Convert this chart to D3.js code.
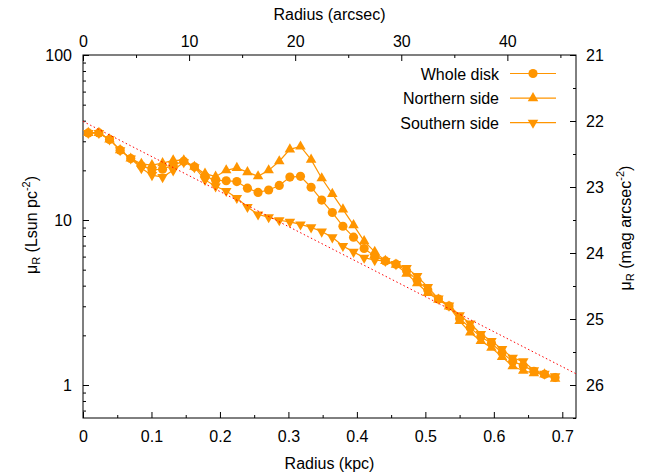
<!DOCTYPE html>
<html>
<head>
<meta charset="utf-8">
<script src="https://cdn.jsdelivr.net/npm/d3@7"></script>
<style>
  body { margin: 0; background: #fff; }
  svg { font-family: "Liberation Sans", Arial, sans-serif; font-size: 16px; }
  .tick text { font-size: 16px; fill: #000; }
  .tick line { stroke: #000; }
</style>
</head>
<body>
<div class="profile-container"></div>
<script>
// radii of the annuli (arcsec)
const radiusArcsec = [0.5, 1.5, 2.5, 3.5, 4.5, 5.5, 6.5, 7.5, 8.5, 9.5,
  10.5, 11.5, 12.5, 13.5, 14.5, 15.5, 16.5, 17.5, 18.5, 19.5,
  20.5, 21.5, 22.5, 23.5, 24.5, 25.5, 26.5, 27.5, 28.5, 29.5,
  30.5, 31.5, 32.5, 33.5, 34.5, 35.5, 36.5, 37.5, 38.5, 39.5,
  40.5, 41.5, 42.5, 43.5, 44.5];

// surface brightness (Lsun pc^-2)
const wholeDisk = [33.7, 33.7, 30.8, 26.5, 23.6, 21.3, 20.2, 20.3, 21.5, 22.7,
  21.0, 18.4, 17.4, 17.3, 17.1, 15.6, 14.7, 15.2, 16.2, 18.2,
  18.4, 15.8, 13.2, 11.1, 9.17, 7.87, 6.72, 6.04, 5.65, 5.40,
  4.92, 4.32, 3.76, 3.32, 3.01, 2.53, 2.22, 1.96, 1.79, 1.57,
  1.39, 1.31, 1.21, 1.16, 1.11];
const northernSide = [33.7, 33.7, 30.8, 26.5, 23.6, 21.9, 21.5, 22.1, 23.0, 23.0,
  21.0, 19.1, 18.3, 20.0, 20.7, 19.5, 18.4, 20.0, 22.7, 26.8,
  27.9, 23.2, 17.9, 14.4, 11.6, 9.30, 7.44, 6.41, 5.65, 5.36,
  4.73, 4.14, 3.61, 3.29, 2.99, 2.44, 2.08, 1.85, 1.68, 1.48,
  1.30, 1.22, 1.18, 1.16, 1.09];
const southernSide = [33.7, 33.7, 30.8, 26.5, 23.6, 20.6, 18.7, 18.2, 20.0, 22.4,
  20.9, 17.5, 16.0, 15.0, 13.6, 12.0, 10.8, 10.4, 9.97, 9.74,
  9.40, 9.02, 8.51, 7.85, 6.96, 6.41, 5.91, 5.71, 5.65, 5.40,
  5.11, 4.57, 3.92, 3.34, 3.03, 2.65, 2.36, 2.04, 1.85, 1.65,
  1.46, 1.39, 1.23, 1.17, 1.13];

// exponential fit, end points
const fitKpc = [0, 0.72];
const fitMu = [39.6, 1.17];

// axis ticks
const kpcTicks = [0, 0.1, 0.2, 0.3, 0.4, 0.5, 0.6, 0.7];
const kpcMinor = [0.05, 0.15, 0.25, 0.35, 0.45, 0.55, 0.65];
const arcTicks = [0, 10, 20, 30, 40];
const arcMinor = [5, 15, 25, 35, 45];
const muTicks = [1, 10, 100];
const muMinor = [0.7, 0.8, 0.9, 2, 3, 4, 5, 6, 7, 8, 9, 20, 30, 40, 50, 60, 70, 80, 90];
const magTicks = [21, 22, 23, 24, 25, 26];
const magMinor = [21.5, 22.5, 23.5, 24.5, 25.5, 26.5];

const seriesNames = ["Whole disk", "Northern side", "Southern side"];

const orange = "#ff9500";

const margin = {top: 55, right: 81, bottom: 55, left: 83};
const W = 657, H = 473;
const width = W - margin.left - margin.right;
const height = H - margin.top - margin.bottom;

const xKpc = d3.scaleLinear().domain([0, 0.72]).range([0, width]);
const xArc = d3.scaleLinear().domain([0, 46.47]).range([0, width]);
const y = d3.scaleLog().domain([0.631, 100]).range([height, 0]);
const yMag = d3.scaleLinear().domain([21, 26.5]).range([0, height]);

const svg = d3.select(".profile-container").append("svg")
  .attr("width", W)
  .attr("height", H)
  .append("g")
  .attr("transform", "translate(" + margin.left + "," + margin.top + ")");

function cleanAxis(g) {
  g.select(".domain").remove();
  g.selectAll(".tick line").attr("stroke-width", 1);
}

// bottom axis (kpc)
svg.append("g")
  .attr("transform", "translate(0," + height + ")")
  .call(d3.axisBottom(xKpc).tickValues(kpcTicks).tickSize(-6).tickPadding(13)
    .tickFormat(d => d === 0 ? "0" : d3.format(".1f")(d)))
  .call(cleanAxis);
svg.append("g")
  .attr("transform", "translate(0," + height + ")")
  .call(d3.axisBottom(xKpc).tickValues(kpcMinor).tickSize(-3).tickFormat(""))
  .call(cleanAxis);

// top axis (arcsec)
svg.append("g")
  .call(d3.axisTop(xArc).tickValues(arcTicks).tickSize(-6).tickPadding(8)
    .tickFormat(d3.format("d")))
  .call(cleanAxis);
svg.append("g")
  .call(d3.axisTop(xArc).tickValues(arcMinor).tickSize(-3).tickFormat(""))
  .call(cleanAxis);

// left axis (Lsun pc^-2)
svg.append("g")
  .call(d3.axisLeft(y).tickValues(muTicks).tickSize(-6).tickPadding(11)
    .tickFormat(d3.format("d")))
  .call(cleanAxis);
svg.append("g")
  .call(d3.axisLeft(y).tickValues(muMinor).tickSize(-3).tickFormat(""))
  .call(cleanAxis);

// right axis (mag arcsec^-2)
svg.append("g")
  .attr("transform", "translate(" + width + ",0)")
  .call(d3.axisRight(yMag).tickValues(magTicks).tickSize(-6).tickPadding(10)
    .tickFormat(d3.format("d")))
  .call(cleanAxis);
svg.append("g")
  .attr("transform", "translate(" + width + ",0)")
  .call(d3.axisRight(yMag).tickValues(magMinor).tickSize(-3).tickFormat(""))
  .call(cleanAxis);

// frame
svg.append("rect")
  .attr("width", width)
  .attr("height", height)
  .attr("fill", "none")
  .attr("stroke", "#000")
  .attr("stroke-width", 1);

// axis titles
svg.append("text")
  .attr("x", width / 2)
  .attr("y", 20 - margin.top)
  .attr("text-anchor", "middle")
  .text("Radius (arcsec)");

svg.append("text")
  .attr("x", width / 2)
  .attr("y", height + 51)
  .attr("text-anchor", "middle")
  .text("Radius (kpc)");

const leftTitle = svg.append("text")
  .attr("transform", "translate(" + (37 - margin.left) + "," + (225 - margin.top) + ") rotate(-90)")
  .attr("text-anchor", "middle");
leftTitle.append("tspan").text("\u03bc");
leftTitle.append("tspan").attr("dy", 3).attr("font-size", "11px").text("R");
leftTitle.append("tspan").attr("dy", -3).text(" (Lsun pc");
leftTitle.append("tspan").attr("dy", -7).attr("font-size", "11px").text("-2");
leftTitle.append("tspan").attr("dy", 7).text(")");

const rightTitle = svg.append("text")
  .attr("transform", "translate(" + (631 - margin.left) + "," + (228 - margin.top) + ") rotate(-90)")
  .attr("text-anchor", "middle");
rightTitle.append("tspan").text("\u03bc");
rightTitle.append("tspan").attr("dy", 3).attr("font-size", "11px").text("R");
rightTitle.append("tspan").attr("dy", -3).text(" (mag arcsec");
rightTitle.append("tspan").attr("dy", -7).attr("font-size", "11px").text("-2");
rightTitle.append("tspan").attr("dy", 7).text(")");

// markers
const circleSym = d3.symbol().type(d3.symbolCircle).size(66);
const triSym = d3.symbol().type(d3.symbolTriangle).size(48);
const markers = [
  {path: circleSym(), rot: 0},
  {path: triSym(), rot: 0},
  {path: triSym(), rot: 180}
];

const line = d3.line()
  .x((d, i) => xArc(radiusArcsec[i]))
  .y(d => y(d));

const series = [wholeDisk, northernSide, southernSide];

series.forEach((values, s) => {
  svg.append("path")
    .datum(values)
    .attr("fill", "none")
    .attr("stroke", orange)
    .attr("stroke-width", 1.2)
    .attr("d", line);

  svg.selectAll(".pt-" + s)
    .data(values)
    .enter()
    .append("path")
    .attr("class", "pt-" + s)
    .attr("d", markers[s].path)
    .attr("fill", orange)
    .attr("transform", (d, i) => "translate(" + xArc(radiusArcsec[i]) + "," + y(d) + ") rotate(" + markers[s].rot + ")");
});

// exponential fit
svg.append("path")
  .datum(fitKpc.map((k, i) => [k, fitMu[i]]))
  .attr("fill", "none")
  .attr("stroke", "#ff0000")
  .attr("stroke-width", 1)
  .attr("stroke-dasharray", "1.5,2.5")
  .attr("d", d3.line().x(d => xKpc(d[0])).y(d => y(d[1])));

// legend
const legendRight = 499 - margin.left;
const legendLine = [510 - margin.left, 556 - margin.left];
const legend = svg.selectAll(".legend")
  .data(seriesNames)
  .enter()
  .append("g")
  .attr("class", "legend")
  .attr("transform", (d, i) => "translate(0," + (73.5 + i * 24.6 - margin.top) + ")");

legend.append("text")
  .attr("x", legendRight)
  .attr("y", 6)
  .attr("text-anchor", "end")
  .text(d => d);

legend.append("line")
  .attr("x1", legendLine[0])
  .attr("x2", legendLine[1])
  .attr("stroke", orange)
  .attr("stroke-width", 1.2);

legend.append("path")
  .attr("d", (d, i) => markers[i].path)
  .attr("fill", orange)
  .attr("transform", (d, i) => "translate(" + (legendLine[0] + legendLine[1]) / 2 + ",0) rotate(" + markers[i].rot + ")");
</script>
</body>
</html>
